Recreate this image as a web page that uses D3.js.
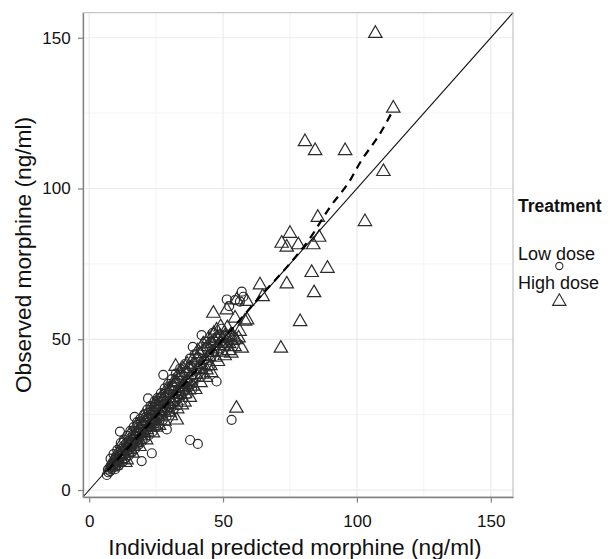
<!DOCTYPE html>
<html>
<head>
<meta charset="utf-8">
<script src="https://cdn.jsdelivr.net/npm/d3@7"></script>
<style>
body { margin: 0; background: #fff; }
text { font-family: "Liberation Sans", Arial, sans-serif; }
</style>
</head>
<body>
<script>
/* observed vs individual predicted morphine */

var width = 610;
var height = 559;

var xTicks = [0, 50, 100, 150];
var yTicks = [0, 50, 100, 150];
var minorTicks = [25, 75, 125];
var treatments = ["Low dose", "High dose"];

// low dose : [pred, obs]
var lowDose = [
	[6.6,5.0],[7.0,6.8],[7.2,5.9],[7.6,7.4],[7.9,6.3],[8.1,8.2],[8.4,7.0],[8.7,9.1],[8.9,7.8],[9.2,8.4],[9.5,10.3],[9.8,9.0],[10.0,11.2],[10.3,8.7],
	[10.6,10.1],[10.9,12.4],[11.2,9.8],[11.5,19.4],[11.6,11.3],[11.9,13.6],[12.2,10.9],[12.5,12.2],[12.8,14.5],[13.1,11.6],[13.4,13.1],[13.7,15.4],[14.0,12.7],[14.3,14.2],[14.6,16.3],[14.9,13.5],
	[15.2,15.0],[15.5,17.2],[15.8,14.1],[16.1,16.0],[16.4,18.4],[16.7,15.2],[17.0,24.3],[17.1,17.1],[17.4,19.6],[17.7,16.3],[18.0,18.0],[18.3,20.9],[18.6,17.0],[18.9,19.2],[19.2,22.0],[19.6,9.6],[19.7,18.1],
	[20.0,20.3],[20.3,23.1],[20.6,19.0],[20.9,21.4],[21.2,24.2],[21.5,20.0],[21.8,22.3],[22.0,30.4],[22.2,25.6],[22.5,21.2],[22.8,23.4],[23.1,26.3],[23.4,12.2],[23.6,22.0],[23.9,24.5],[24.2,27.5],[24.5,23.0],[24.8,25.6],
	[25.1,28.4],[25.4,24.1],[25.7,26.5],[26.0,29.6],[26.3,25.0],[26.6,27.4],[26.9,30.8],[27.2,26.0],[27.7,38.2],[27.8,28.6],[28.1,32.0],[28.4,26.9],[28.7,29.5],[29.0,20.1],[29.3,31.4],[29.6,28.0],[29.9,33.5],
	[30.3,30.4],[30.7,27.4],[31.1,34.6],[31.5,31.6],[31.9,29.2],[32.3,35.8],[32.7,32.6],[33.1,30.3],[33.5,37.0],[33.9,33.8],[34.3,31.5],[34.7,38.2],
	[35.2,35.0],[35.7,32.8],[36.2,39.5],[36.7,36.4],[37.2,34.0],[37.7,16.6],[37.8,41.0],[38.3,37.8],[38.7,47.5],[38.9,35.4],[39.5,42.3],[40.1,39.6],[40.6,15.3],[40.8,44.0],[41.4,41.2],[42.0,51.4],[42.2,45.7],[43.0,43.0],[43.9,47.2],[44.8,44.6],
	[45.7,49.0],[46.8,46.2],[47.6,36.0],[48.0,51.0],[49.5,53.5],[51.4,63.2],[52.3,61.0],[53.2,23.3],[54.5,63.0],[56.3,62.5],[57.0,65.8],[57.6,64.1],
	[8.0,10.4],[9.1,11.9],[9.7,6.9],[10.5,13.3],[11.0,8.1],[11.8,15.6],[12.4,9.2],[13.0,16.7],[13.6,10.6],[14.2,18.0],[14.8,11.5],[15.4,19.6],[16.0,12.6],[16.6,20.9],
	[17.3,13.8],[17.9,22.5],[18.5,15.1],[19.1,23.6],[19.9,16.2],[20.5,25.1],[21.1,17.3],[21.7,26.7],[22.3,18.2],[22.9,27.9],[23.7,19.4],[24.4,29.4],[25.0,20.9],
	[25.6,30.6],[26.2,22.0],[26.8,32.1],[27.5,23.2],[28.2,33.7],[28.9,24.4],[29.5,35.2],[30.1,25.9],[30.9,36.8],[31.6,26.8],[32.4,38.6],[33.2,28.1],[34.0,40.3],
	[34.9,29.9],[35.8,41.8],[36.8,31.7],[37.6,43.6],[38.5,33.4],[39.4,45.0],[41.8,37.6],[43.4,49.2],[45.1,41.0],[46.2,52.1]
];

// high dose : [pred, obs]
var highDose = [
	[8.3,7.6],[9.0,9.4],[9.6,8.1],[10.2,10.6],[10.8,9.3],[11.4,11.8],[12.0,10.2],[12.6,13.0],[13.2,11.4],[13.8,14.1],[14.0,10.0],[14.4,12.6],
	[15.0,15.4],[15.5,13.4],[16.0,16.8],[16.5,14.5],[17.0,18.1],[17.5,15.7],[18.0,19.3],[18.5,16.8],[19.0,20.4],[19.5,17.9],
	[20.0,21.6],[20.5,19.0],[21.0,22.7],[21.5,20.0],[22.0,23.9],[22.5,21.0],[23.0,25.0],[23.5,22.1],[24.0,26.2],[24.5,23.1],[25.0,20.8],
	[25.3,27.3],[25.8,24.2],[26.3,28.4],[26.8,25.2],[27.3,29.6],[27.8,26.3],[28.3,30.8],[28.8,27.4],[29.3,32.0],[29.8,28.4],[30.0,25.8],
	[30.3,33.2],[30.8,29.5],[31.3,34.4],[31.8,30.6],[32.3,35.6],[32.3,41.0],[32.7,23.2],[32.8,31.7],[33.3,36.8],[33.8,32.7],[34.3,38.0],[34.6,28.2],[34.8,33.8],[35.0,40.2],
	[35.3,35.0],[35.8,31.9],[36.3,39.1],[36.8,36.0],[37.3,33.2],[37.8,40.3],[38.3,37.2],[38.8,34.4],[39.3,41.5],[39.8,38.3],
	[40.3,43.8],[40.8,40.0],[41.3,45.2],[41.8,41.6],[42.3,38.4],[42.8,46.4],[43.3,43.0],[43.8,39.8],[44.3,47.6],[44.8,44.3],
	[45.3,41.2],[45.8,48.6],[46.3,45.6],[46.4,58.6],[46.8,49.5],[47.3,46.8],[47.6,53.0],[47.8,50.4],[48.3,47.9],[48.8,51.0],[49.3,48.6],[49.8,50.2],
	[50.3,47.8],[50.8,51.2],[51.4,59.7],[51.3,49.0],[51.8,50.6],[52.3,48.5],[52.8,51.3],[53.3,49.6],[53.8,50.8],[54.3,47.5],[54.5,57.0],[54.8,49.8],[55.0,27.1],[55.1,63.0],[55.8,50.4],[57.0,47.0],[58.2,56.0],[58.9,62.5],[59.0,56.4],
	[12.3,15.4],[13.5,9.1],[15.2,18.4],[16.2,12.2],[17.8,21.5],[18.8,14.4],[20.2,24.3],[21.3,16.6],[22.6,26.6],[23.8,18.9],[24.9,28.8],[26.1,21.4],
	[27.1,31.0],[28.1,22.8],[29.0,33.4],[30.5,24.6],[31.6,35.9],[32.9,26.9],[33.7,38.9],[35.6,29.1],[36.6,41.7],[37.6,30.7],[38.6,43.1],[39.6,33.3],
	[40.6,46.1],[41.6,35.6],[42.6,48.4],[43.6,37.3],[44.6,50.2],[45.6,38.9],[46.6,51.9],[48.1,42.6],[49.1,54.1],[50.6,44.5],[51.6,53.8],[53.1,45.4],
	[56.2,52.6],[52.2,46.2],[49.6,45.7],[47.1,44.0],
	[63.8,68.0],[64.8,64.1],[71.6,47.0],[71.9,81.8],[73.8,68.3],[73.8,80.5],[75.0,85.1],[78.1,81.3],[78.8,55.8],[80.6,115.5],[83.1,72.1],[83.7,81.3],[84.0,65.4],[84.4,112.5],[85.4,90.4],[85.9,83.8],[89.0,73.5],[95.6,112.5],[103.0,89.0],[106.9,151.4],[109.9,105.6],[113.6,126.6]
];

// smooth (dashed)
var smoothLine = [
	[7,6.5],[30,29.5],[50,50],[66,66.3],[74,74.1],[82,82.9],[90,93.9],[97.5,102.8],[101,108.3],[108.7,118.3],[113.5,126]
];

var panelLeft = 83, panelRight = 513, panelTop = 12.7, panelBottom = 497;

var x = d3.scaleLinear().domain([-2.3, 158.3]).range([panelLeft, panelRight]);
var y = d3.scaleLinear().domain([-2.3, 158.3]).range([panelBottom, panelTop]);

var svg = d3.select("body").append("svg")
	.attr("width", width)
	.attr("height", height);

svg.append("rect")
	.attr("width", width)
	.attr("height", height)
	.attr("fill", "#fff");

// grid
var grid = svg.append("g");
grid.selectAll(".vminor").data(minorTicks).enter().append("line")
	.attr("x1", d => x(d)).attr("x2", d => x(d))
	.attr("y1", panelTop).attr("y2", panelBottom)
	.attr("stroke", "#f3f3f3").attr("stroke-width", 1);
grid.selectAll(".hminor").data(minorTicks).enter().append("line")
	.attr("x1", panelLeft).attr("x2", panelRight)
	.attr("y1", d => y(d)).attr("y2", d => y(d))
	.attr("stroke", "#f3f3f3").attr("stroke-width", 1);
grid.selectAll(".vmajor").data(xTicks).enter().append("line")
	.attr("x1", d => x(d)).attr("x2", d => x(d))
	.attr("y1", panelTop).attr("y2", panelBottom)
	.attr("stroke", "#ebebeb").attr("stroke-width", 1.2);
grid.selectAll(".hmajor").data(yTicks).enter().append("line")
	.attr("x1", panelLeft).attr("x2", panelRight)
	.attr("y1", d => y(d)).attr("y2", d => y(d))
	.attr("stroke", "#ebebeb").attr("stroke-width", 1.2);

// points
var ptColor = "#2b2b2b";
svg.append("g").selectAll("circle").data(lowDose).enter().append("circle")
	.attr("cx", d => x(d[0]))
	.attr("cy", d => y(d[1]))
	.attr("r", 4.5)
	.attr("fill", "none")
	.attr("stroke", ptColor)
	.attr("stroke-width", 1.2);

var tri = d3.symbol().type(d3.symbolTriangle).size(78);
svg.append("g").selectAll("path").data(highDose).enter().append("path")
	.attr("d", tri)
	.attr("transform", d => "translate(" + x(d[0]) + "," + y(d[1]) + ")")
	.attr("fill", "none")
	.attr("stroke", ptColor)
	.attr("stroke-width", 1.2);

// identity line and smooth
svg.append("line")
	.attr("x1", x(-2.3)).attr("y1", y(-2.3))
	.attr("x2", x(158.3)).attr("y2", y(158.3))
	.attr("stroke", "#111")
	.attr("stroke-width", 1.1);

var lineGen = d3.line().x(d => x(d[0])).y(d => y(d[1])).curve(d3.curveMonotoneX);
svg.append("path")
	.attr("d", lineGen(smoothLine))
	.attr("fill", "none")
	.attr("stroke", "#000")
	.attr("stroke-width", 2.2)
	.attr("stroke-dasharray", "8,6");

// panel border
svg.append("rect")
	.attr("x", panelLeft).attr("y", panelTop)
	.attr("width", panelRight - panelLeft).attr("height", panelBottom - panelTop)
	.attr("fill", "none")
	.attr("stroke", "#b8b8b8")
	.attr("stroke-width", 1);

// axes
var xAxis = svg.append("g")
	.attr("transform", "translate(0," + panelBottom + ")")
	.call(d3.axisBottom(x).tickValues(xTicks).tickSize(5.5).tickSizeOuter(0).tickPadding(12.5));
var yAxis = svg.append("g")
	.attr("transform", "translate(" + panelLeft + ",0)")
	.call(d3.axisLeft(y).tickValues(yTicks).tickSize(5).tickSizeOuter(0).tickPadding(7.3));

[xAxis, yAxis].forEach(function(a) {
	a.select(".domain").attr("stroke", "#808080").attr("stroke-width", 1.3);
	a.selectAll(".tick line").attr("stroke", "#808080").attr("stroke-width", 1.2);
	a.selectAll(".tick text")
		.attr("fill", "#111")
		.style("font-size", "17px")
		.style("font-family", "'Liberation Sans', Arial, sans-serif");
});

// titles
svg.append("text")
	.attr("x", 295).attr("y", 555)
	.attr("text-anchor", "middle")
	.style("font-size", "22.7px")
	.attr("fill", "#111")
	.text("Individual predicted morphine (ng/ml)");

svg.append("text")
	.attr("transform", "translate(31,255) rotate(-90)")
	.attr("text-anchor", "middle")
	.style("font-size", "22.7px")
	.attr("fill", "#111")
	.text("Observed morphine (ng/ml)");

// legend
var legend = svg.append("g");
legend.append("text")
	.attr("x", 518).attr("y", 211.5)
	.style("font-size", "17.5px")
	.style("font-weight", "bold")
	.attr("fill", "#111")
	.text("Treatment");
legend.append("text")
	.attr("x", 518).attr("y", 260)
	.style("font-size", "18px")
	.attr("fill", "#111")
	.text(treatments[0]);
legend.append("circle")
	.attr("cx", 559.3).attr("cy", 266)
	.attr("r", 3.6)
	.attr("fill", "none")
	.attr("stroke", ptColor)
	.attr("stroke-width", 1.1);
legend.append("text")
	.attr("x", 518).attr("y", 288.5)
	.style("font-size", "18px")
	.attr("fill", "#111")
	.text(treatments[1]);
legend.append("path")
	.attr("d", tri)
	.attr("transform", "translate(559.3,301.5)")
	.attr("fill", "none")
	.attr("stroke", ptColor)
	.attr("stroke-width", 1.1);
</script>
</body>
</html>
